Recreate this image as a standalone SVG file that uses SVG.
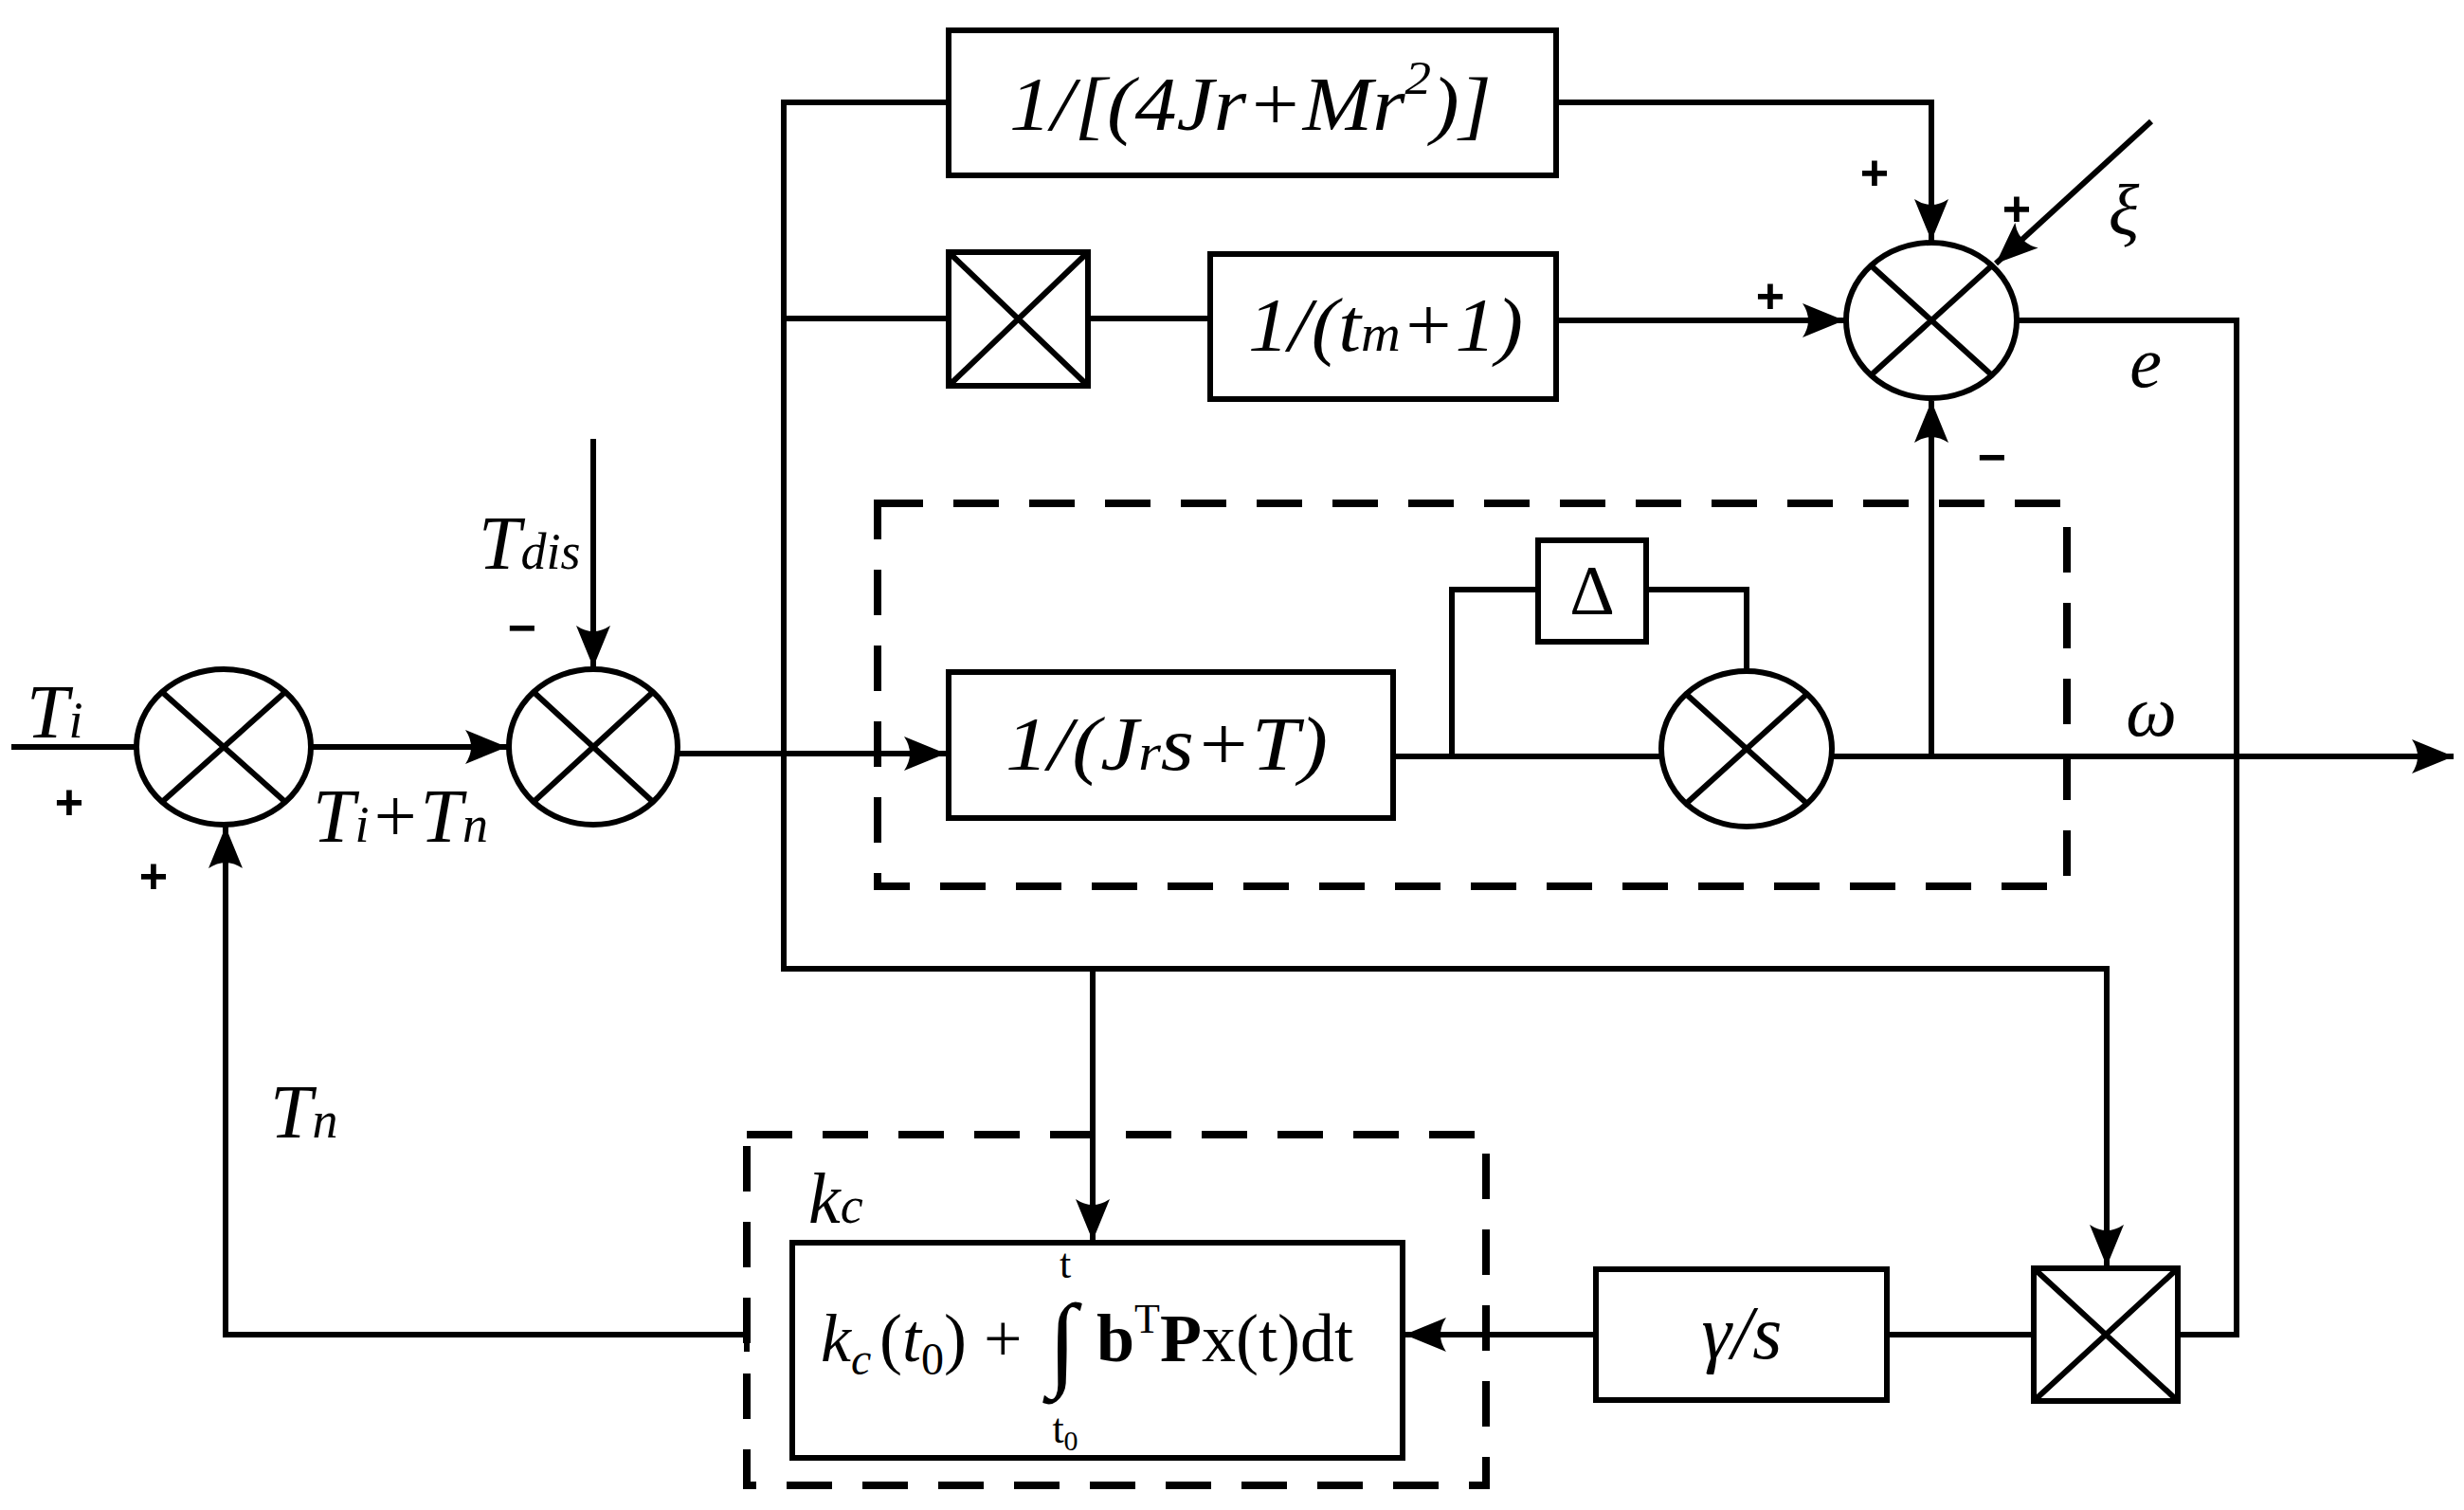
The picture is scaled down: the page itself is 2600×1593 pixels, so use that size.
<svg xmlns="http://www.w3.org/2000/svg" width="2600" height="1593" viewBox="0 0 2600 1593">
<style>
.l{fill:none;stroke:#000;stroke-width:6}
.b{fill:#fff;stroke:#000;stroke-width:6}
.d{fill:none;stroke:#000;stroke-width:8;stroke-dasharray:48 32}
.t{font-family:"Liberation Serif",serif;font-style:italic;fill:#000}
.r{font-family:"Liberation Serif",serif;fill:#000}
.p{font-family:"Liberation Sans",sans-serif;font-weight:bold;fill:#000;font-size:52px}
</style>
<defs>
<marker id="a" markerUnits="userSpaceOnUse" markerWidth="50" markerHeight="40" refX="44" refY="18" orient="auto">
<path d="M0,0 L44,18 L0,36 Q12,18 0,0Z" fill="#000"/>
</marker>
</defs>
<g id="connectors">
<path class="l" d="M12,788 H143"/>
<path class="l" d="M328,788 H535" marker-end="url(#a)"/>
<path class="l" d="M626,463 V704" marker-end="url(#a)"/>
<path class="l" d="M715,795 H998" marker-end="url(#a)"/>
<path class="l" d="M1001,108 H827 V1022 H2223 V1336" marker-end="url(#a)"/>
<path class="l" d="M827,336 H1001"/>
<path class="l" d="M1148,336 H1277"/>
<path class="l" d="M1642,108 H2038 V254" marker-end="url(#a)"/>
<path class="l" d="M1642,338 H1946" marker-end="url(#a)"/>
<path class="l" d="M2270,128 L2106,278" marker-end="url(#a)"/>
<path class="l" d="M2128,338 H2360 V1408 H2298"/>
<path class="l" d="M1470,798 H1753"/>
<path class="l" d="M1532,798 V622 H1623"/>
<path class="l" d="M1737,622 H1843 V709"/>
<path class="l" d="M1933,798 H2589" marker-end="url(#a)"/>
<path class="l" d="M2038,798 V423" marker-end="url(#a)"/>
<path class="l" d="M1153,1022 V1309" marker-end="url(#a)"/>
<path class="l" d="M2146,1408 H1991"/>
<path class="l" d="M1684,1408 H1482" marker-end="url(#a)"/>
<path class="l" d="M788,1408 H238 V872" marker-end="url(#a)"/>
<path class="l" d="M788,1390 V1426"/>
</g>
<g id="dash1"><rect class="d" x="926" y="531" width="1255" height="404"/></g>
<g id="dash2"><rect class="d" x="788" y="1197" width="780" height="370"/></g>
<g id="sum1"><ellipse class="b" cx="236" cy="788" rx="92" ry="82"/><path class="l" d="M171,730 L301,846 M301,730 L171,846"/></g>
<g id="sum2"><ellipse class="b" cx="626" cy="788" rx="89" ry="82"/><path class="l" d="M563,730 L689,846 M689,730 L563,846"/></g>
<g id="sum3"><ellipse class="b" cx="2038" cy="338" rx="90" ry="82"/><path class="l" d="M1974,280 L2102,396 M2102,280 L1974,396"/></g>
<g id="sum4"><ellipse class="b" cx="1843" cy="790" rx="90" ry="82"/><path class="l" d="M1779,732 L1907,848 M1907,732 L1779,848"/></g>
<g id="box-top"><rect class="b" x="1001" y="32" width="641" height="153"/><text class="t" x="1065" y="137" font-size="80" textLength="509" lengthAdjust="spacingAndGlyphs">1/[(4Jr+Mr<tspan font-size="50" dy="-38">2</tspan><tspan dy="38">)]</tspan></text></g>
<g id="mult1"><rect class="b" x="1001" y="266" width="147" height="141" stroke-width="8"/><path class="l" d="M1001,266 L1148,407 M1148,266 L1001,407"/></g>
<g id="box-tm"><rect class="b" x="1277" y="268" width="365" height="153"/><text class="t" x="1317" y="370" font-size="80" textLength="290" lengthAdjust="spacingAndGlyphs">1/(t<tspan font-size="54">m</tspan>+1)</text></g>
<g id="box-j"><rect class="b" x="1001" y="709" width="469" height="154" stroke-width="7"/><text class="t" x="1061" y="812" font-size="80" textLength="340" lengthAdjust="spacingAndGlyphs">1/(J<tspan font-size="54">r</tspan>s+T)</text></g>
<g id="delta"><rect class="b" x="1623" y="570" width="114" height="107" stroke-width="7"/><text class="r" x="1680" y="648" font-size="74" text-anchor="middle">Δ</text></g>
<g id="box-kc"><rect class="b" x="836" y="1311" width="644" height="227"/>
<text class="t" x="866" y="1436" font-size="72">k<tspan font-size="48" dy="14">c</tspan></text>
<text class="r" x="928" y="1436" font-size="72">(<tspan font-style="italic">t</tspan><tspan font-size="48" dy="14">0</tspan><tspan dy="-14">) + </tspan></text>
<text class="r" x="1106" y="1452" font-size="110">∫</text>
<text class="r" x="1124" y="1348" font-size="44" text-anchor="middle">t</text>
<text class="r" x="1124" y="1522" font-size="44" text-anchor="middle">t<tspan font-size="30" dy="8">0</tspan></text>
<text class="r" x="1157" y="1436" font-size="72"><tspan font-weight="bold">b</tspan><tspan font-size="44" dy="-30">T</tspan><tspan dy="30" font-weight="bold">P</tspan>x(t)dt</text></g>
<g id="box-g"><rect class="b" x="1684" y="1339" width="307" height="138"/><text class="t" x="1838" y="1433" font-size="80" text-anchor="middle">γ/s</text></g>
<g id="mult2"><rect class="b" x="2146" y="1338" width="152" height="140" stroke-width="8"/><path class="l" d="M2146,1338 L2298,1478 M2298,1338 L2146,1478"/></g>
<g id="labels">
<text class="t" x="28" y="778" font-size="80">T<tspan font-size="54">i</tspan></text>
<text class="p" x="73" y="864" text-anchor="middle">+</text>
<text class="p" x="162" y="942" text-anchor="middle">+</text>
<text class="t" x="330" y="888" font-size="80">T<tspan font-size="54">i</tspan>+T<tspan font-size="54">n</tspan></text>
<text class="t" x="505" y="600" font-size="80">T<tspan font-size="54">dis</tspan></text>
<text class="p" x="551" y="680" text-anchor="middle">−</text>
<text class="t" x="285" y="1200" font-size="80">T<tspan font-size="54">n</tspan></text>
<text class="t" x="853" y="1290" font-size="76">k<tspan font-size="54">c</tspan></text>
<text class="p" x="1978" y="200" text-anchor="middle">+</text>
<text class="p" x="2128" y="238" text-anchor="middle">+</text>
<text class="p" x="1868" y="330" text-anchor="middle">+</text>
<text class="t" x="2241" y="248" font-size="76" text-anchor="middle">ξ</text>
<text class="t" x="2264" y="408" font-size="76" text-anchor="middle">e</text>
<text class="p" x="2102" y="500" text-anchor="middle">−</text>
<text class="t" x="2270" y="776" font-size="76" text-anchor="middle">ω</text>
</g>
</svg>
